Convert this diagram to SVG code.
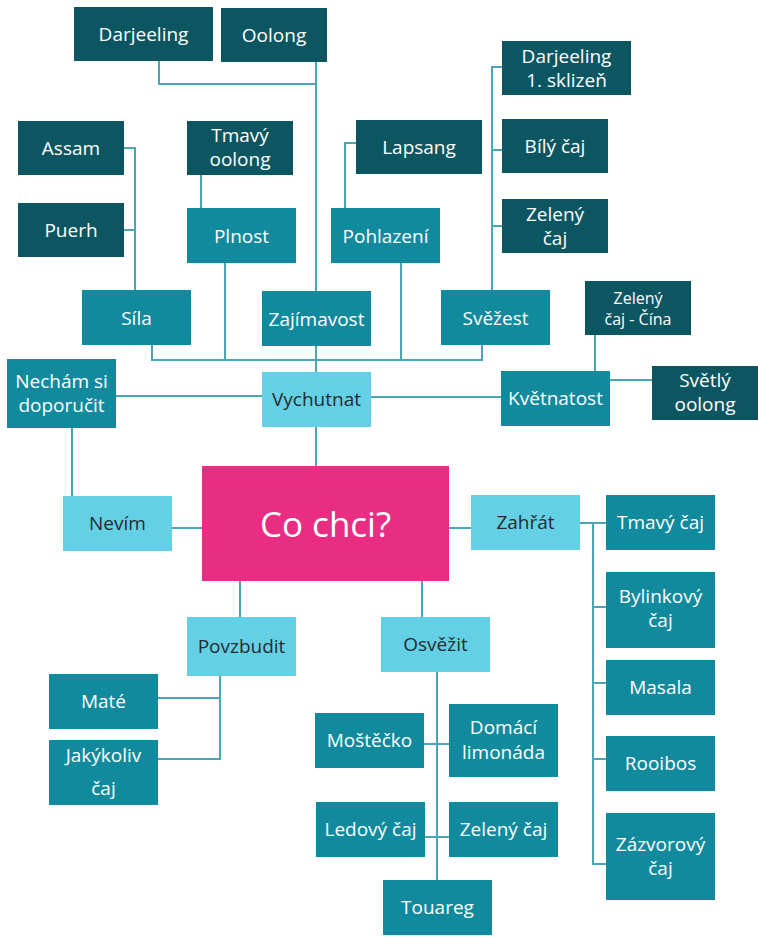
<svg xmlns="http://www.w3.org/2000/svg" width="758" height="938" viewBox="0 0 758 938">
<style>
.d{fill:#0b5661}.m{fill:#118a9e}.l{fill:#64d0e6}.p{fill:#e82d82}
text{font-family:"Open Sans","Noto Sans","DejaVu Sans",sans-serif;font-size:19px;text-anchor:middle}
.w{fill:#ffffff}.k{fill:#262b2e}
.c{fill:none;stroke:#4aa6b6;stroke-width:2}
</style>
<rect width="758" height="938" fill="#ffffff"/>
<g id="connectors" class="c">
<path d="M159 61V84H316"/>
<path d="M316 62V291"/>
<path d="M124 148H135V290"/>
<path d="M124 230H135"/>
<path d="M201 175V208"/>
<path d="M356 143H345V208"/>
<path d="M492 290V67H502"/>
<path d="M492 150H502"/>
<path d="M492 226H502"/>
<path d="M152 345V360H482V345"/>
<path d="M225 263V360"/>
<path d="M401 263V360"/>
<path d="M316 346V372"/>
<path d="M316 427V466"/>
<path d="M116 396H262"/>
<path d="M72 428V496"/>
<path d="M172 528H202"/>
<path d="M371 397H501"/>
<path d="M595 335V371"/>
<path d="M610 380H652"/>
<path d="M449 528H471"/>
<path d="M580 523H606"/>
<path d="M593 523V864H606"/>
<path d="M593 607H606"/>
<path d="M593 683H606"/>
<path d="M593 759H606"/>
<path d="M240 581V617"/>
<path d="M220 676V759H158"/>
<path d="M220 698H158"/>
<path d="M422 581V617"/>
<path d="M437 672V880"/>
<path d="M424 744H449"/>
<path d="M425 837H449"/>
</g>
<g id="darjeeling"><rect class="d" x="74" y="7" width="139" height="54"/><text class="w" x="143.5" y="41">Darjeeling</text></g>
<g id="oolong"><rect class="d" x="221" y="8" width="106" height="54"/><text class="w" x="274" y="42">Oolong</text></g>
<g id="assam"><rect class="d" x="18" y="121" width="106" height="54"/><text class="w" x="71" y="155">Assam</text></g>
<g id="puerh"><rect class="d" x="18" y="203" width="106" height="54"/><text class="w" x="71" y="237">Puerh</text></g>
<g id="tmavy-oolong"><rect class="d" x="187" y="121" width="106" height="54"/><text class="w" x="240" y="142">Tmavý</text><text class="w" x="240" y="166">oolong</text></g>
<g id="lapsang"><rect class="d" x="356" y="120" width="126" height="54"/><text class="w" x="419" y="154">Lapsang</text></g>
<g id="darjeeling-1"><rect class="d" x="502" y="41" width="129" height="54"/><text class="w" x="566.5" y="63">Darjeeling</text><text class="w" x="566.5" y="87">1. sklizeň</text></g>
<g id="bily-caj"><rect class="d" x="502" y="119" width="106" height="54"/><text class="w" x="555" y="153">Bílý čaj</text></g>
<g id="zeleny-caj-top"><rect class="d" x="502" y="199" width="106" height="54"/><text class="w" x="555" y="221">Zelený</text><text class="w" x="555" y="245">čaj</text></g>
<g id="plnost"><rect class="m" x="187" y="208" width="109" height="55"/><text class="w" x="241.5" y="243">Plnost</text></g>
<g id="pohlazeni"><rect class="m" x="331" y="208" width="109" height="55"/><text class="w" x="385.5" y="243">Pohlazení</text></g>
<g id="sila"><rect class="m" x="82" y="290" width="109" height="55"/><text class="w" x="136.5" y="325">Síla</text></g>
<g id="zajimavost"><rect class="m" x="262" y="291" width="109" height="55"/><text class="w" x="316.5" y="326">Zajímavost</text></g>
<g id="svezest"><rect class="m" x="441" y="290" width="109" height="55"/><text class="w" x="495.5" y="325">Svěžest</text></g>
<g id="zeleny-cina"><rect class="d" x="585" y="281" width="106" height="54"/><text class="w" x="638" y="304" style="font-size:16px">Zelený</text><text class="w" x="638" y="325" style="font-size:16px">čaj - Čína</text></g>
<g id="nechamsi"><rect class="m" x="7" y="359" width="109" height="69"/><text class="w" x="61.5" y="388">Nechám si</text><text class="w" x="61.5" y="412">doporučit</text></g>
<g id="vychutnat"><rect class="l" x="262" y="372" width="109" height="55"/><text class="k" x="316.5" y="406">Vychutnat</text></g>
<g id="kvetnatost"><rect class="m" x="501" y="371" width="109" height="55"/><text class="w" x="555.5" y="405">Květnatost</text></g>
<g id="svetly-oolong"><rect class="d" x="652" y="366" width="106" height="54"/><text class="w" x="705" y="387">Světlý</text><text class="w" x="705" y="411">oolong</text></g>
<g id="nevim"><rect class="l" x="63" y="496" width="109" height="55"/><text class="k" x="117.5" y="530">Nevím</text></g>
<g id="co-chci"><rect class="p" x="202" y="466" width="247" height="115"/><text class="w" x="325.5" y="537" style="font-size:35px">Co chci?</text></g>
<g id="zahrat"><rect class="l" x="471" y="495" width="109" height="55"/><text class="k" x="525.5" y="529">Zahřát</text></g>
<g id="tmavy-caj"><rect class="m" x="606" y="495" width="109" height="55"/><text class="w" x="660.5" y="529">Tmavý čaj</text></g>
<g id="bylinkovy"><rect class="m" x="606" y="572" width="109" height="76"/><text class="w" x="660.5" y="603">Bylinkový</text><text class="w" x="660.5" y="627">čaj</text></g>
<g id="masala"><rect class="m" x="606" y="660" width="109" height="55"/><text class="w" x="660.5" y="694">Masala</text></g>
<g id="rooibos"><rect class="m" x="606" y="736" width="109" height="55"/><text class="w" x="660.5" y="770">Rooibos</text></g>
<g id="zazvorovy"><rect class="m" x="606" y="813" width="109" height="87"/><text class="w" x="660.5" y="851">Zázvorový</text><text class="w" x="660.5" y="875">čaj</text></g>
<g id="povzbudit"><rect class="l" x="187" y="617" width="109" height="59"/><text class="k" x="241.5" y="653">Povzbudit</text></g>
<g id="mate"><rect class="m" x="49" y="674" width="109" height="55"/><text class="w" x="103.5" y="708">Maté</text></g>
<g id="jakykoliv"><rect class="m" x="49" y="740" width="109" height="65"/><text class="w" x="103.5" y="762">Jakýkoliv</text><text class="w" x="103.5" y="795">čaj</text></g>
<g id="osvezit"><rect class="l" x="381" y="617" width="109" height="55"/><text class="k" x="435.5" y="651">Osvěžit</text></g>
<g id="mostecko"><rect class="m" x="315" y="713" width="109" height="55"/><text class="w" x="369.5" y="747">Moštěčko</text></g>
<g id="domaci-limonada"><rect class="m" x="449" y="704" width="109" height="73"/><text class="w" x="503.5" y="734">Domácí</text><text class="w" x="503.5" y="759">limonáda</text></g>
<g id="ledovy-caj"><rect class="m" x="316" y="802" width="109" height="55"/><text class="w" x="370.5" y="836">Ledový čaj</text></g>
<g id="zeleny-caj-bottom"><rect class="m" x="449" y="802" width="109" height="55"/><text class="w" x="503.5" y="836">Zelený čaj</text></g>
<g id="touareg"><rect class="m" x="383" y="880" width="109" height="55"/><text class="w" x="437.5" y="914">Touareg</text></g>
</svg>
